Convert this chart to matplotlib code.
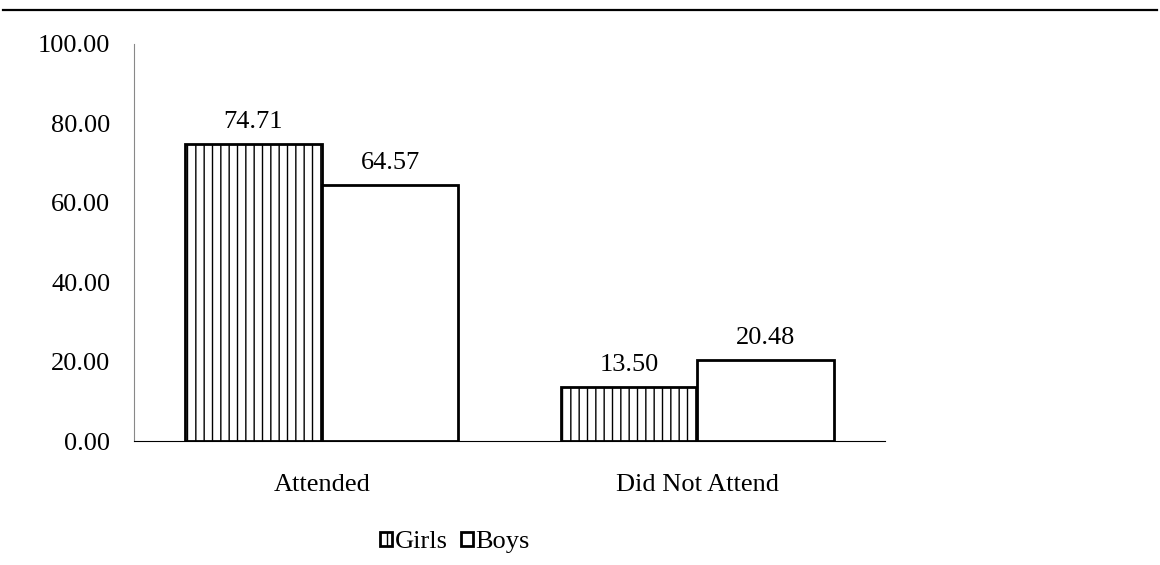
import matplotlib
matplotlib.use("Agg")
import matplotlib.pyplot as plt
import numpy as np
from matplotlib.lines import Line2D
from matplotlib.patches import Patch

categories = ["Attended", "Did Not Attend"]
girls = [74.71, 13.50]
boys = [64.57, 20.48]
series_names = ["Girls", "Boys"]
y_ticks = [0, 20, 40, 60, 80, 100]

plt.rcParams["font.family"] = ["Liberation Serif", "DejaVu Serif"]
plt.rcParams["hatch.linewidth"] = 1.0
FS = 19

fig = plt.figure(figsize=(11.6, 5.65), dpi=100)
ax = fig.add_axes([134 / 1160, 1 - 441 / 565, (885 - 134) / 1160, (441 - 44) / 565])

x = np.arange(len(categories))
w = 0.364
b1 = ax.bar(x - w / 2, girls, w, color="white", edgecolor="black", linewidth=2, hatch="||")
b2 = ax.bar(x + w / 2, boys, w, color="white", edgecolor="black", linewidth=2)

for bars, vals in ((b1, girls), (b2, boys)):
    for r, v in zip(bars, vals):
        ax.annotate(f"{v:.2f}", (r.get_x() + r.get_width() / 2, v), xytext=(0, 8),
                    textcoords="offset points", ha="center", va="bottom", fontsize=FS)

ax.set_xlim(-0.5, 1.5)
ax.set_ylim(0, 100)
ax.set_yticks(y_ticks)
ax.set_yticklabels([f"{t:.2f}" for t in y_ticks], fontsize=FS)
ax.set_xticks(x)
ax.set_xticklabels(categories, fontsize=FS)
ax.tick_params(axis="x", length=0, pad=24)
ax.tick_params(axis="y", length=0, pad=17)
for s in ("top", "right"):
    ax.spines[s].set_visible(False)
ax.spines["left"].set_color("#888888")
ax.spines["bottom"].set_color("black")

# rule across the top of the page
fig.add_artist(Line2D([3 / 1160, 1157 / 1160], [1 - 10 / 565] * 2, color="black", lw=1.6))

handles = [Patch(facecolor="white", edgecolor="black", hatch="||", lw=2),
           Patch(facecolor="white", edgecolor="black", lw=2)]
fig.legend(handles, series_names, loc="center", bbox_to_anchor=(455 / 1160, 1 - 542 / 565),
           ncol=2, frameon=False, fontsize=FS, handlelength=0.45, handleheight=0.45,
           handletextpad=0.1, columnspacing=0.5, borderpad=0, borderaxespad=0)

fig.savefig("out.png", dpi=100)
